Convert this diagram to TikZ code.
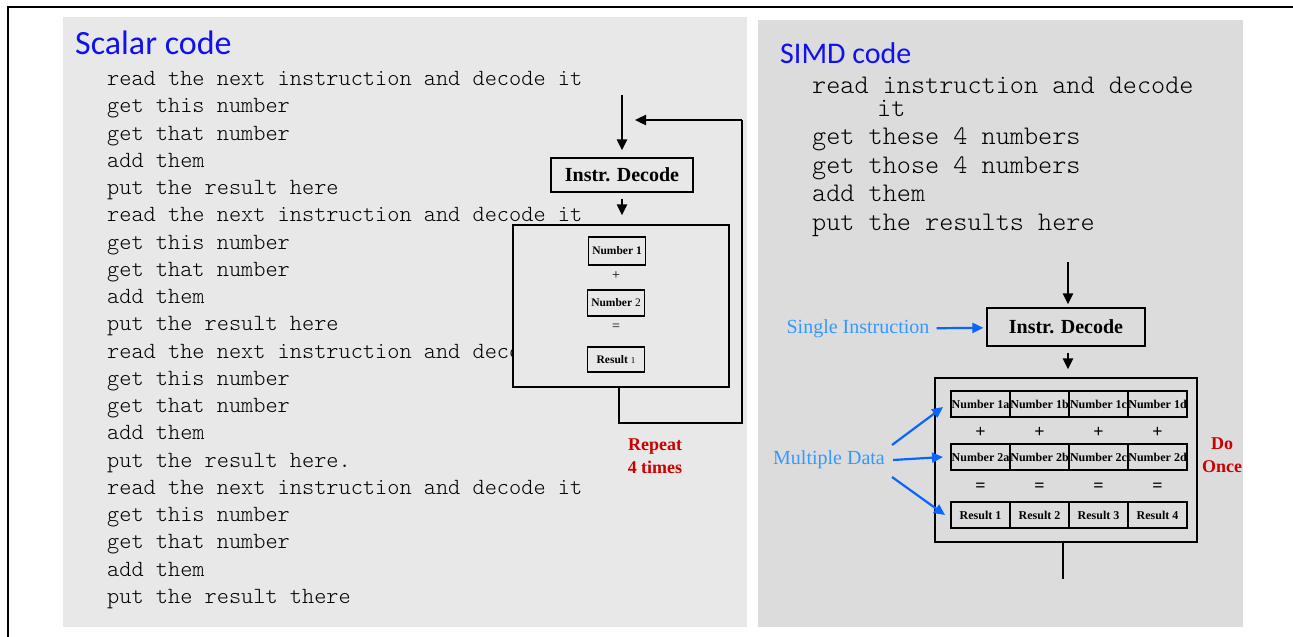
\documentclass[tikz,border=0pt]{standalone}
\usepackage{fontspec}
\setmainfont{Liberation Serif}
\setmonofont{Latin Modern Mono Light}
\newfontfamily\titlefont{Carlito}
\usepackage{tikz}
\usetikzlibrary{positioning,arrows.meta}
\definecolor{leftbg}{HTML}{E8E8E8}
\definecolor{rightbg}{HTML}{DCDCDC}
\definecolor{titleblue}{HTML}{1010F0}
\definecolor{lightblue}{HTML}{3399FF}
\definecolor{arrowblue}{HTML}{0A64FF}
\definecolor{darkred}{HTML}{CC0000}

\begin{document}
\begin{tikzpicture}[x=1pt,y=-1pt,
    code/.style={anchor=base west,inner sep=0,font=\ttfamily\fontsize{23.2}{26}\selectfont},
    simd/.style={anchor=base west,inner sep=0,font=\ttfamily\fontsize{26.9}{30}\selectfont},
    title/.style={anchor=base west,inner sep=0,text=titleblue},
    decode/.style={draw,line width=1.3pt,inner sep=0,font=\bfseries\fontsize{20}{24}\selectfont},
    frame/.style={draw,line width=1.3pt,inner sep=0},
    numbox/.style={draw,line width=1.2pt,inner sep=0,outer sep=0,minimum width=59,minimum height=26,
                   font=\bfseries\fontsize{12}{13}\selectfont},
    sign/.style={inner sep=0,font=\bfseries\fontsize{18}{20}\selectfont},
    note/.style={text=darkred,align=center,inner sep=0,font=\bfseries\fontsize{18}{22.5}\selectfont},
    label/.style={text=lightblue,inner sep=0,font=\fontsize{20}{24}\selectfont},
    bigarrow/.style={-{Triangle[length=11pt,width=10pt]},line width=2.4pt},
    bluearrow/.style={-{Triangle[length=11pt,width=10pt]},line width=2.2pt,arrowblue}]

  \useasboundingbox (0,0) rectangle (1293,637);
  \draw[line width=1.3pt] (8,637) -- (8,7) -- (1293,7);

  % panels
  \fill[leftbg] (63,17) rectangle (747,627);
  \fill[rightbg] (758,20) rectangle (1243,627);

  % scalar code
  \node[title,font=\titlefont\fontsize{34}{40}\selectfont] (scalar) at (75,54) {Scalar code};
  \foreach \ln [count=\i from 0] in {read the next instruction and decode it,get this number,
      get that number,add them,put the result here,
      read the next instruction and decode it,get this number,get that number,add them,
      put the result here,read the next instruction and decode it,get this number,
      get that number,add them,put the result here.,read the next instruction and decode it,
      get this number,get that number,add them,put the result there}
    \node[code] (s\i) at (107,85.5+27.26*\i) {\ln};

  % scalar loop
  \coordinate (top1) at (622,95);
  \node[decode,fill=leftbg,minimum width=142,minimum height=34] (dec1) at (622,175) {Instr. Decode};
  \node[frame,fill=leftbg,minimum width=216,minimum height=162] (box1) at (621,306) {};
  \node[frame,minimum width=57,minimum height=28,font=\bfseries\fontsize{11.5}{13}\selectfont] (n1) at (617,251) {Number 1};
  \node[sign,font=\fontsize{14}{15}\selectfont] (plus1) at (616,276) {+};
  \node[frame,minimum width=57,minimum height=26,font=\bfseries\fontsize{11.5}{13}\selectfont] (n2) at (616,303) {Number {\mdseries 2}};
  \node[sign,font=\fontsize{14}{15}\selectfont] (eq1) at (616,327) {=};
  \node[frame,minimum width=57,minimum height=25,font=\bfseries\fontsize{11.5}{13}\selectfont] (r1) at (616,359.5) {Result {\mdseries\fontsize{9}{10}\selectfont 1}};
  \node[note] (repeat) at (655,456) {Repeat\\4 times};
  \coordinate (lp1) at (742,423);
  \coordinate (lp2) at (742,120);

  \draw[bigarrow] (top1) -- ([yshift=7pt]dec1.north);
  \draw[bigarrow,shorten <=6pt] (dec1.south) -- ([yshift=9pt]box1.north -| dec1);
  \draw[line width=1.3pt] ([xshift=-2pt]box1.south) |- (lp1) -- (lp2);
  \draw[bigarrow,shorten >=13pt] (lp2) -- (lp2 -| top1);

  % SIMD code
  \node[title,font=\titlefont\fontsize{30}{36}\selectfont] (simdt) at (780,63) {SIMD code};
  \node[simd,text depth=0pt] (m1) at (812,93) {read instruction and decode};
  \node[simd,text height=14pt] (m2) at (877,116) {it};
  \node[simd] (m3) at (812,144) {get these 4 numbers};
  \node[simd] (m4) at (812,173) {get those 4 numbers};
  \node[simd] (m5) at (812,201) {add them};
  \node[simd] (m6) at (812,230) {put the results here};

  % SIMD unit
  \coordinate (top2) at (1068,262);
  \node[decode,minimum width=158,minimum height=38] (dec2) at (1066,327) {Instr. Decode};
  \node[label] (single) at (858,329) {Single Instruction};
  \node[frame,minimum width=262,minimum height=164] (box2) at (1066,460) {};

  \node[numbox] (n1a) at (980.5,404) {Number 1a};
  \node[numbox,right=0pt of n1a] (n1b) {Number 1b};
  \node[numbox,right=0pt of n1b] (n1c) {Number 1c};
  \node[numbox,right=0pt of n1c] (n1d) {Number 1d};
  \node[numbox] (n2a) at (980.5,457) {Number 2a};
  \node[numbox,right=0pt of n2a] (n2b) {Number 2b};
  \node[numbox,right=0pt of n2b] (n2c) {Number 2c};
  \node[numbox,right=0pt of n2c] (n2d) {Number 2d};
  \node[numbox,line width=2pt] (r1a) at (980.5,515) {Result 1};
  \node[numbox,line width=2pt,right=0pt of r1a] (r1b) {Result 2};
  \node[numbox,line width=2pt,right=0pt of r1b] (r1c) {Result 3};
  \node[numbox,line width=2pt,right=0pt of r1c] (r1d) {Result 4};
  \foreach \c in {a,b,c,d} {
    \node[sign] (p\c) at (n1\c |- 0,432) {+};
    \node[sign] (e\c) at (n1\c |- 0,487) {=};
  }
  \node[note] (once) at (1222,455) {Do\\Once};
  \node[label] (multi) at (829,460) {Multiple Data};
  \coordinate (bot2) at (1063,579);

  \draw[bigarrow] (top2) -- ([yshift=3pt]dec2.north -| top2);
  \draw[bigarrow,shorten <=6pt] (dec2.south -| top2) -- ([yshift=8pt]box2.north -| top2);
  \draw[line width=1.3pt] (box2.south -| bot2) -- (bot2);
  \draw[bluearrow,shorten <=7pt,shorten >=3pt] (single) -- (dec2);
  \draw[bluearrow] ([shift={(7,-15)}]multi.east) -- ([xshift=-8pt,yshift=-3pt]n1a.west);
  \draw[bluearrow] ([xshift=8pt]multi.east) -- ([xshift=-8pt]n2a.west);
  \draw[bluearrow] ([shift={(7,17)}]multi.east) -- ([xshift=-6pt]r1a.west);
\end{tikzpicture}
\end{document}
